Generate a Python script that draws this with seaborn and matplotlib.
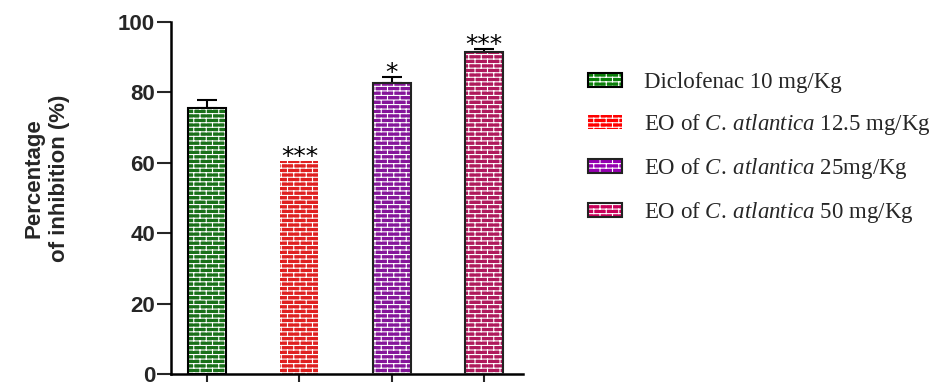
import numpy as np
import pandas as pd
import matplotlib
matplotlib.use("Agg")
import matplotlib.pyplot as plt
import matplotlib.hatch as mhatch
import matplotlib.patches as mpatches
from matplotlib.path import Path
from matplotlib.legend_handler import HandlerTuple
import seaborn as sns

# ---- data -------------------------------------------------------------
groups = ["Diclofenac", "EO 12.5", "EO 25", "EO 50"]
inhibition = [75.5, 60.5, 82.8, 91.6]
sem = [2.2, 0.0, 1.6, 0.7]
significance = ["", "***", "*", "***"]
legend_labels = [
    "Diclofenac 10 mg/Kg",
    r"EO of $\mathit{C.\:atlantica}$ 12.5 mg/Kg",
    r"EO of $\mathit{C.\:atlantica}$ 25mg/Kg",
    r"EO of $\mathit{C.\:atlantica}$ 50 mg/Kg",
]
bar_colors = ["#0a7f0a", "#ff0000", "#9400b0", "#c8005a"]
outline_colors = ["#000000", "none", "#222222", "#222222"]
y_ticks = [0, 20, 40, 60, 80, 100]


# ---- brick-wall hatch ---------------------------------------------------
class BrickHatch(mhatch.HatchPatternBase):
    """Running-bond brick pattern drawn for every '-' hatch."""

    def __init__(self, hatch, density):
        self.rows = 22 if "-" in hatch else 0
        self.cols = 8
        if self.rows:
            n_vert = sum((self.cols + 1) if r % 2 == 0 else self.cols
                         for r in range(self.rows))
            self.num_vertices = 2 * (self.rows + 1) + 2 * n_vert
        else:
            self.num_vertices = 0

    def set_vertices_and_codes(self, vertices, codes):
        segs = []
        for i in range(self.rows + 1):
            y = i / self.rows
            segs.append(((0.0, y), (1.0, y)))
        for r in range(self.rows):
            y0, y1 = r / self.rows, (r + 1) / self.rows
            if r % 2 == 0:
                xs = [c / self.cols for c in range(self.cols + 1)]
            else:
                xs = [(c + 0.5) / self.cols for c in range(self.cols)]
            for x in xs:
                segs.append(((x, y0), (x, y1)))
        k = 0
        for a, b in segs:
            vertices[k] = a
            vertices[k + 1] = b
            codes[k] = Path.MOVETO
            codes[k + 1] = Path.LINETO
            k += 2


mhatch._hatch_types[:] = [BrickHatch]

# ---- style ----------------------------------------------------------------
sns.set_theme(style="ticks")
plt.rcParams["font.family"] = ["Liberation Sans", "DejaVu Sans"]
plt.rcParams["hatch.linewidth"] = 0.8
plt.rcParams["mathtext.fontset"] = "custom"
plt.rcParams["mathtext.rm"] = "Liberation Serif"
plt.rcParams["mathtext.it"] = "Liberation Serif:italic"

fig = plt.figure(figsize=(9.48, 3.82), dpi=100)
ax = fig.add_axes([171 / 948, 8 / 382, 352 / 948, 352 / 382])

df = pd.DataFrame({"group": groups, "value": inhibition})

# coloured bars carrying the white mortar lines
sns.barplot(data=df, x="group", y="value", hue="group", palette=bar_colors,
            width=0.41, legend=False, errorbar=None, ax=ax,
            edgecolor="white", linewidth=0, hatch="-", zorder=2)

# outlines on top of each bar
for patch, oc in zip(ax.patches, outline_colors):
    if oc == "none":
        continue
    ax.add_patch(mpatches.Rectangle(patch.get_xy(), patch.get_width(),
                                    patch.get_height(), fill=False,
                                    edgecolor=oc, linewidth=1.5, zorder=3))

# upper error bars (SEM), only where there is a spread to show
x_pos = np.arange(len(groups))
has_err = np.array(sem) > 0
ax.errorbar(x_pos[has_err], np.array(inhibition)[has_err],
            yerr=[np.zeros(has_err.sum()), np.array(sem)[has_err]], fmt="none",
            ecolor="black", elinewidth=1.5, capsize=7, capthick=1.5, zorder=1)

# significance stars
for x, v, e, s in zip(x_pos, inhibition, sem, significance):
    if s:
        ax.annotate(s, xy=(x, v + e), xytext=(0, -2.0), textcoords="offset points",
                    ha="center", va="baseline", fontsize=18,
                    fontfamily="DejaVu Sans", color="black")

ax.set_xlim(-0.39, 3.42)
ax.set_ylim(0, 100)
ax.set_yticks(y_ticks)
ax.set_yticklabels([str(t) for t in y_ticks], fontsize=16, fontweight="bold")
ax.set_xticks(x_pos)
ax.set_xticklabels([])
ax.set_xlabel("")
ax.tick_params(axis="y", length=10, width=1.5, pad=1.5, direction="out")
ax.tick_params(axis="x", length=10, width=1.5, direction="out")
for side in ["top", "right"]:
    ax.spines[side].set_visible(False)
for side in ["left", "bottom"]:
    ax.spines[side].set_linewidth(1.8)
    ax.spines[side].set_color("black")

ax.set_ylabel("Percentage\nof inhibition (%)", fontsize=16, fontweight="bold",
              linespacing=1.3)
ax.yaxis.label.set_va("center")
ax.yaxis.set_label_coords(-0.352, 0.557)

# legend: hatched fill with its outline laid over it
handles = []
for c, oc in zip(bar_colors, outline_colors):
    fill = mpatches.Patch(facecolor=c, edgecolor="white", linewidth=0, hatch="-")
    if oc == "none":
        handles.append(fill)
    else:
        edge = mpatches.Patch(fill=False, edgecolor=oc, linewidth=1.5)
        handles.append((fill, edge))

fig.legend(handles, legend_labels, loc="upper left",
           bbox_to_anchor=(588 / 948, (382 - 72) / 382),
           frameon=False, borderpad=0, borderaxespad=0,
           handlelength=1.5, handleheight=0.56, handletextpad=0.95,
           labelspacing=0.83,
           prop={"family": "Liberation Serif", "size": 16.5},
           handler_map={tuple: HandlerTuple(ndivide=1, pad=0)})

fig.savefig("out.png", dpi=100)
